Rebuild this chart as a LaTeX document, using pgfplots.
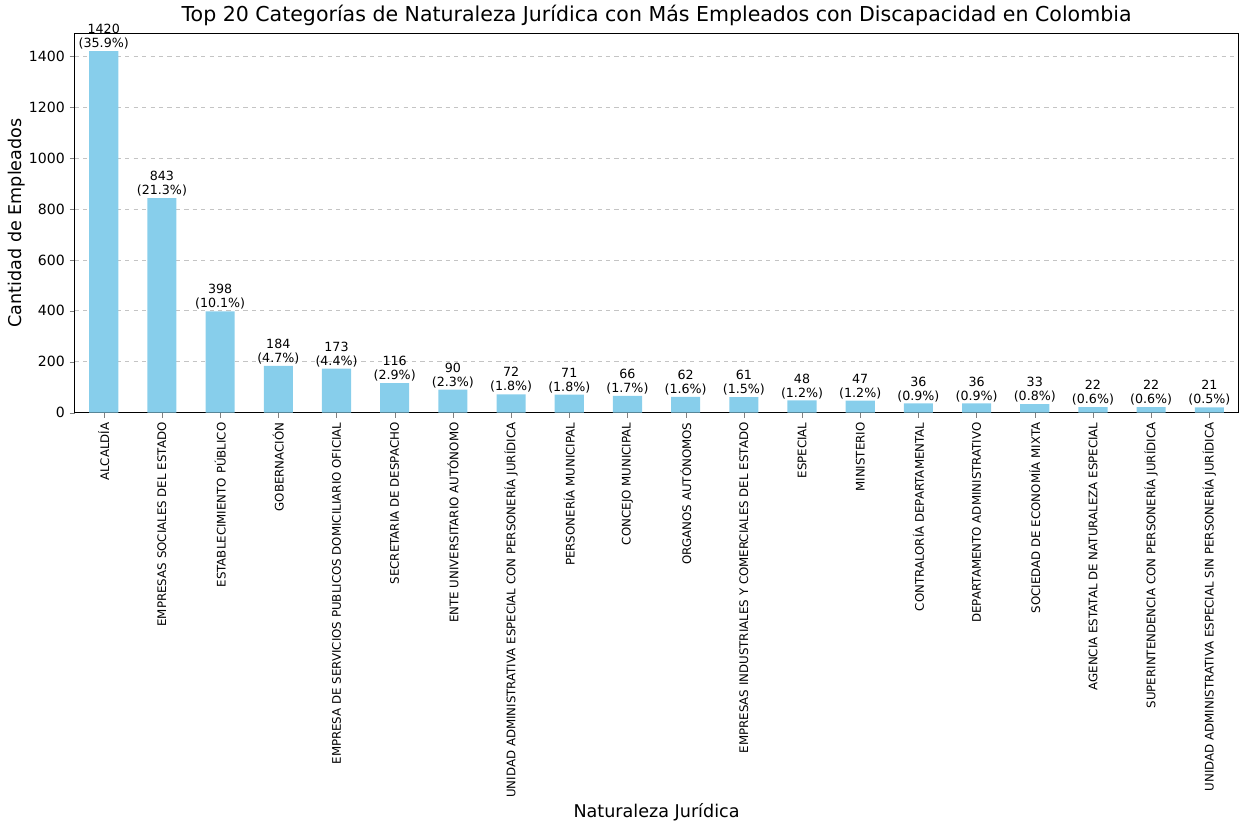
\documentclass[border=0pt]{standalone}
\usepackage{pgfplots}
\pgfplotsset{compat=1.18}
\usepackage{fontspec}
\setmainfont{DejaVu Sans}
\definecolor{skyblue}{HTML}{87CEEB}
\definecolor{gridgray}{HTML}{C4C4C4}
\begin{document}
\begin{tikzpicture}
\begin{axis}[
    scale only axis,
    width=828pt,
    height=270pt,
    xmin=-0.5, xmax=19.5,
    ymin=0, ymax=1491,
    xtick={0,...,19},
    xticklabels={ALCALDÍA, EMPRESAS SOCIALES DEL ESTADO, ESTABLECIMIENTO PÚBLICO, GOBERNACIÓN,
      EMPRESA DE SERVICIOS PUBLICOS DOMICILIARIO OFICIAL, SECRETARIA DE DESPACHO,
      ENTE UNIVERSITARIO AUTÓNOMO, UNIDAD ADMINISTRATIVA ESPECIAL CON PERSONERÍA JURÍDICA,
      PERSONERÍA MUNICIPAL, CONCEJO MUNICIPAL, ORGANOS AUTÓNOMOS,
      EMPRESAS INDUSTRIALES Y COMERCIALES DEL ESTADO, ESPECIAL, MINISTERIO,
      CONTRALORÍA DEPARTAMENTAL, DEPARTAMENTO ADMINISTRATIVO, SOCIEDAD DE ECONOMÍA MIXTA,
      AGENCIA ESTATAL DE NATURALEZA ESPECIAL, SUPERINTENDENCIA CON PERSONERÍA JURÍDICA,
      UNIDAD ADMINISTRATIVA ESPECIAL SIN PERSONERÍA JURÍDICA},
    xticklabel style={rotate=90, anchor=east, font=\fontsize{8.4}{10}\selectfont},
    ytick={0,200,...,1400},
    yticklabel style={font=\fontsize{10}{12}\selectfont},
    /pgf/number format/assume math mode=true,
    /pgf/number format/1000 sep={},
    xtick pos=bottom, ytick pos=left,
    tick align=outside,
    major tick length=3.5pt,
    ymajorgrids,
    grid style={gridgray, dashed, line width=0.6pt},
    axis line style={line width=0.8pt},
    title={Top 20 Categorías de Naturaleza Jurídica con Más Empleados con Discapacidad en Colombia},
    title style={font=\fontsize{14.6}{17}\selectfont, yshift=-4pt},
    xlabel={Naturaleza Jurídica},
    ylabel={Cantidad de Empleados},
    label style={font=\fontsize{12.5}{14}\selectfont},
    ylabel style={inner ysep=6pt, yshift=-7pt},
    xlabel style={yshift=3pt},
    nodes near coords,
    point meta=explicit symbolic,
    every node near coord/.append style={font=\fontsize{9}{10}\selectfont, align=center, anchor=south, inner sep=1pt},
]
\addplot[ybar, bar width=0.5, fill=skyblue, draw=none] coordinates {
    (0,1420) [1420\\(35.9\%)]
    (1,843) [843\\(21.3\%)]
    (2,398) [398\\(10.1\%)]
    (3,184) [184\\(4.7\%)]
    (4,173) [173\\(4.4\%)]
    (5,116) [116\\(2.9\%)]
    (6,90) [90\\(2.3\%)]
    (7,72) [72\\(1.8\%)]
    (8,71) [71\\(1.8\%)]
    (9,66) [66\\(1.7\%)]
    (10,62) [62\\(1.6\%)]
    (11,61) [61\\(1.5\%)]
    (12,48) [48\\(1.2\%)]
    (13,47) [47\\(1.2\%)]
    (14,36) [36\\(0.9\%)]
    (15,36) [36\\(0.9\%)]
    (16,33) [33\\(0.8\%)]
    (17,22) [22\\(0.6\%)]
    (18,22) [22\\(0.6\%)]
    (19,21) [21\\(0.5\%)]
};
\end{axis}
\end{tikzpicture}
\end{document}
